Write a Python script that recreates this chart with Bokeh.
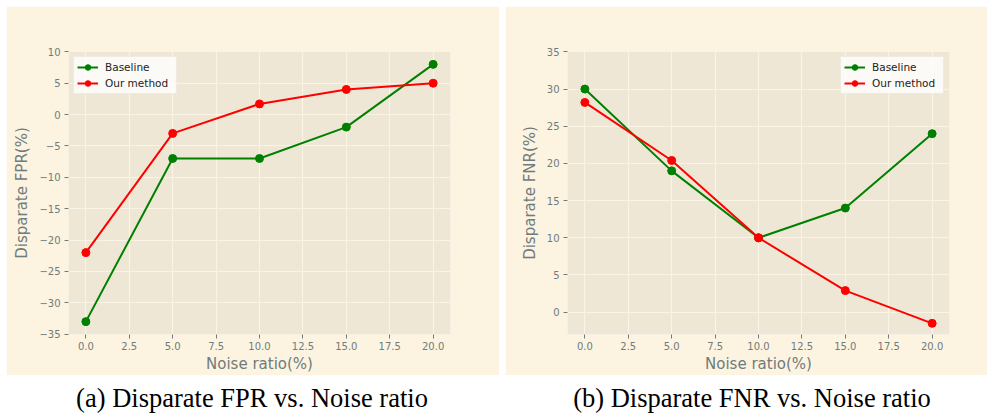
from bokeh.plotting import figure
from bokeh.layouts import row, column
from bokeh.models import FixedTicker, Div, Spacer, Range1d
from bokeh.embed import file_html
from bokeh.resources import INLINE

# ---- data ----
noise = [0, 5, 10, 15, 20]
fpr_baseline = [-33, -7, -7, -2, 8]
fpr_ours = [-22, -3, 1.7, 4, 5]
fnr_baseline = [30, 19, 10, 14, 24]
fnr_ours = [28.2, 20.4, 10, 2.9, -1.5]

x_ticks = [0, 2.5, 5, 7.5, 10, 12.5, 15, 17.5, 20]
x_tick_labels = ["0.0", "2.5", "5.0", "7.5", "10.0", "12.5", "15.0", "17.5", "20.0"]
fpr_ticks = [-35, -30, -25, -20, -15, -10, -5, 0, 5, 10]
fpr_tick_labels = ["\u221235", "\u221230", "\u221225", "\u221220", "\u221215",
                   "\u221210", "\u22125", "0", "5", "10"]
fnr_ticks = [0, 5, 10, 15, 20, 25, 30, 35]
fnr_tick_labels = ["0", "5", "10", "15", "20", "25", "30", "35"]

captions = ["(a) Disparate FPR vs. Noise ratio", "(b) Disparate FNR vs. Noise ratio"]

PAGE_BG = "#FCF4E1"
AX_BG = "#EEE7D5"
GRID = "#FBF4E4"
TXT = "#707b7c"
FONT = "DejaVu Sans"


def make_fig(width, y_range, ylabel, yticks, ylabels, base, ours, mb_left, mb_right, legend_loc):
    p = figure(width=width, height=369, output_backend="svg", toolbar_location=None,
               x_range=Range1d(-1, 21), y_range=Range1d(*y_range),
               min_border_left=mb_left, min_border_right=mb_right,
               min_border_top=45, min_border_bottom=39)
    p.background_fill_color = AX_BG
    p.border_fill_color = PAGE_BG
    p.outline_line_color = None

    p.line(noise, base, line_color="#008000", line_width=2, legend_label="Baseline")
    p.scatter(noise, base, fill_color="#008000", line_color="#008000", size=8,
              legend_label="Baseline")
    p.line(noise, ours, line_color="#FF0000", line_width=2, legend_label="Our method")
    p.scatter(noise, ours, fill_color="#FF0000", line_color="#FF0000", size=8,
              legend_label="Our method")

    p.xaxis.ticker = FixedTicker(ticks=x_ticks)
    p.xaxis.major_label_overrides = dict(zip(x_ticks, x_tick_labels))
    p.yaxis.ticker = FixedTicker(ticks=yticks)
    p.yaxis.major_label_overrides = dict(zip(yticks, ylabels))

    p.xaxis.axis_label = "Noise ratio(%)"
    p.yaxis.axis_label = ylabel
    for ax in (p.xaxis, p.yaxis):
        ax.axis_line_color = None
        ax.minor_tick_line_color = None
        ax.major_tick_line_color = TXT
        ax.major_tick_in = 0
        ax.major_tick_out = 4
        ax.major_label_text_font = FONT
        ax.major_label_text_font_size = "10px"
        ax.major_label_text_color = TXT
        ax.axis_label_text_font = FONT
        ax.axis_label_text_font_size = "15px"
        ax.axis_label_text_font_style = "normal"
        ax.axis_label_text_color = TXT
    p.xaxis.major_label_standoff = 3
    p.xaxis.axis_label_standoff = 2
    p.yaxis.major_label_standoff = 4
    p.yaxis.axis_label_standoff = 5

    p.grid.grid_line_color = GRID
    p.grid.grid_line_width = 1.2

    lg = p.legend[0]
    lg.location = legend_loc
    lg.margin = 5
    lg.padding = 3
    lg.spacing = 2
    lg.glyph_width = 21
    lg.glyph_height = 14
    lg.label_height = 14
    lg.label_width = 68
    lg.label_standoff = 7
    lg.label_text_font = FONT
    lg.label_text_font_size = "10.5px"
    lg.label_text_color = "#222222"
    lg.background_fill_color = "white"
    lg.background_fill_alpha = 0.8
    lg.border_line_color = "#e2dccd"
    lg.border_line_width = 1
    return p


p1 = make_fig(493, (-35.05, 10.05), "Disparate FPR(%)", fpr_ticks, fpr_tick_labels,
              fpr_baseline, fpr_ours, 62, 49, "top_left")
p2 = make_fig(482, (-3.0, 35.05), "Disparate FNR(%)", fnr_ticks, fnr_tick_labels,
              fnr_baseline, fnr_ours, 62, 38, "top_right")


def cap(text, width):
    html = (f"<div style=\"width:{width}px;text-align:center;"
            "font-family:'Liberation Serif','Times New Roman',serif;"
            "font-size:26.5px;line-height:30px;color:#000;padding-top:8px;"
            f"white-space:nowrap;\">{text}</div>")
    return Div(text=html, width=width, height=38, margin=(0, 0, 0, 0))


d1 = cap(captions[0], 504)
d2 = cap(captions[1], 496)

layout = column(Spacer(height=6),
                row(Spacer(width=6), p1, Spacer(width=6), p2),
                row(d1, d2))

open("out.html", "w").write(file_html(layout, INLINE))
